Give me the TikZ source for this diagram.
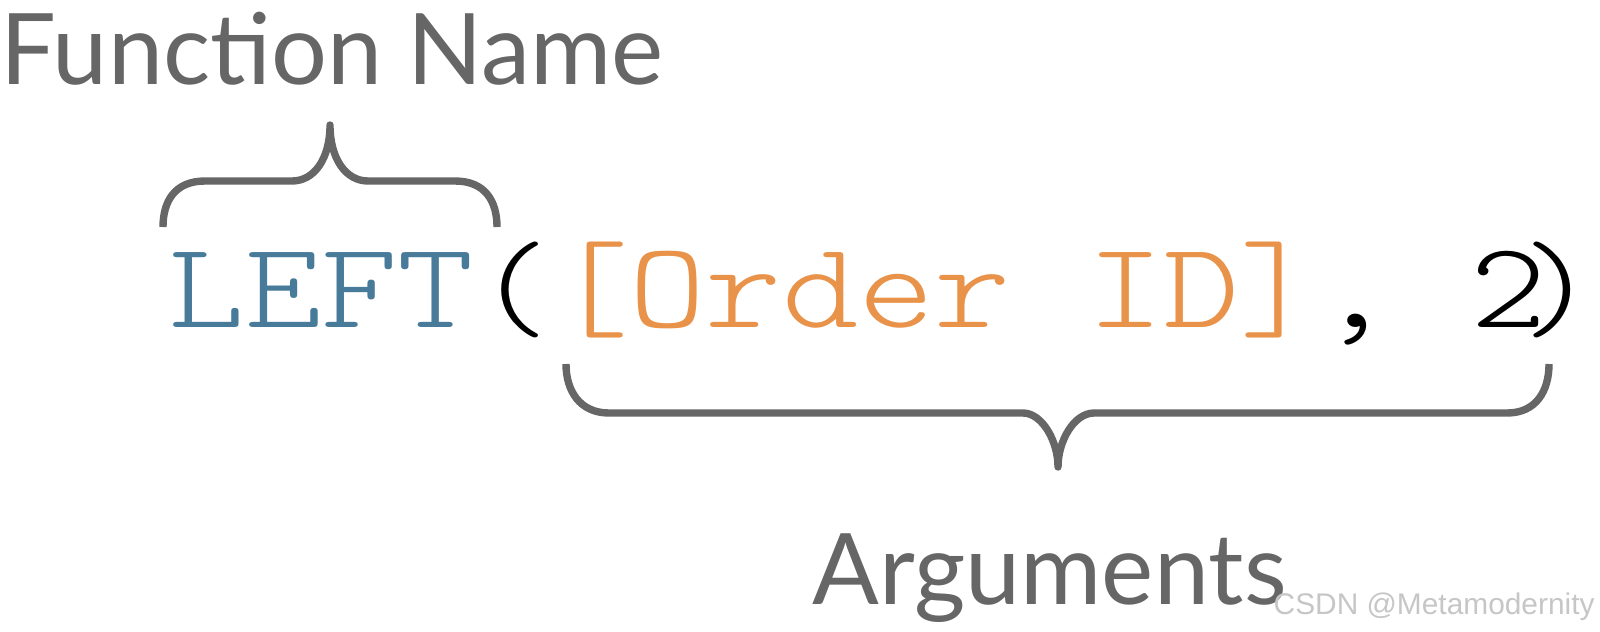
\documentclass[tikz,border=0pt]{standalone}
\usepackage{fontspec}
\setmainfont{Lato}
\newfontfamily\markfont{Liberation Sans}
\newfontfamily\codefont{lmmonolt10-regular}[Extension=.otf, FakeStretch=1.185]
\usetikzlibrary{positioning}
\definecolor{fgrey}{RGB}{102,102,102}
\definecolor{fblue}{RGB}{72,123,153}
\definecolor{forange}{RGB}{232,146,74}

\begin{document}
\begin{tikzpicture}[
    tag/.style={font=\fontsize{28.1}{32}\selectfont, text=fgrey, inner sep=0pt, anchor=base west},
    code/.style={font=\codefont\fontsize{34.9}{40}\selectfont, inner sep=0pt},
    brace/.style={draw=fgrey, line width=2.1pt, line join=round}
]
\useasboundingbox (0,0) rectangle (16,6.31);

% Labels
\node[tag] (fnlabel) at (0,5.47) {Function Name};
\node[tag] (arglabel) at (8.12,0.27) {Arguments};

% Code line
\node[code, text=fblue, anchor=base west] (fname) at (1.68,3.04) {LEFT};
\node[code, base right=0pt of fname] (lpar) {(};
\node[code, text=forange, base right=0pt of lpar] (field) {[Order ID]};
\node[code, base right=0pt of field] (rest) {, 2};
\node[code, base right=-0.27 of rest] (rpar) {)};

% Brace over the function name
\draw[brace] (1.63,4.04) .. controls (1.63,4.30) and (1.75,4.50) .. (2.05,4.50)
    -- (2.92,4.50) .. controls (3.14,4.50) and (3.30,4.72) .. (3.30,5.06)
    .. controls (3.30,4.72) and (3.46,4.50) .. (3.68,4.50)
    -- (4.55,4.50) .. controls (4.85,4.50) and (4.97,4.30) .. (4.97,4.04);

% Brace under the arguments
\draw[brace] (5.66,2.67) .. controls (5.66,2.40) and (5.80,2.18) .. (6.09,2.18)
    -- (10.23,2.18) .. controls (10.42,2.18) and (10.58,1.90) .. (10.58,1.64)
    .. controls (10.58,1.90) and (10.74,2.18) .. (10.94,2.18)
    -- (15.07,2.18) .. controls (15.36,2.18) and (15.49,2.40) .. (15.49,2.67);

% Watermark
\node[inner sep=0pt, anchor=base west, font=\markfont\fontsize{8.5}{10}\selectfont, text=gray!45] (mark) at (12.73,0.17) {CSDN @Metamodernity};

\end{tikzpicture}
\end{document}
